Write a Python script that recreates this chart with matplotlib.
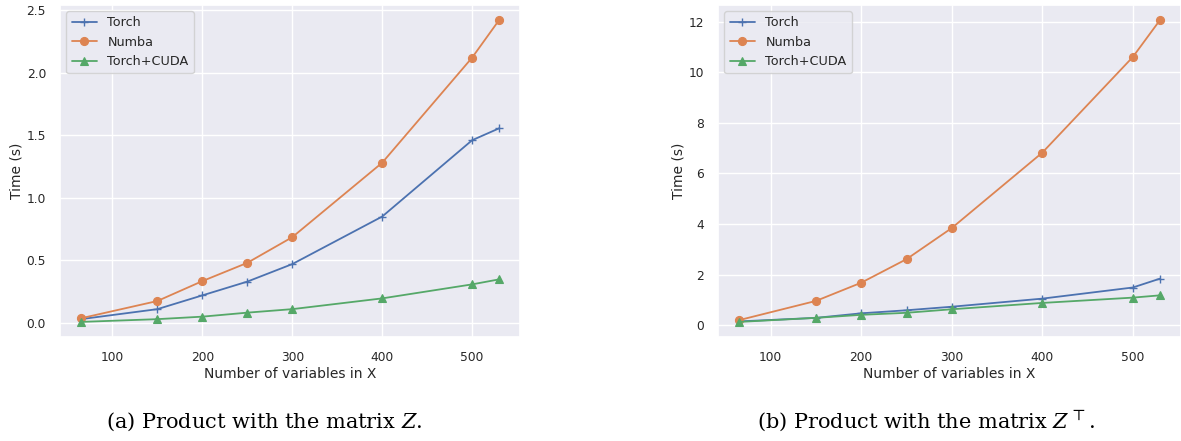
import matplotlib
matplotlib.use("Agg")
import matplotlib.pyplot as plt
import seaborn as sns

sizes = [65, 150, 200, 250, 300, 400, 500, 530]

torch_z = [0.03, 0.11, 0.22, 0.33, 0.47, 0.85, 1.46, 1.555]
numba_z = [0.037, 0.175, 0.334, 0.48, 0.685, 1.28, 2.12, 2.42]
cuda_z = [0.008, 0.03, 0.05, 0.082, 0.11, 0.196, 0.308, 0.348]

torch_zt = [0.15, 0.29, 0.47, 0.59, 0.73, 1.05, 1.49, 1.84]
numba_zt = [0.2, 0.96, 1.68, 2.61, 3.84, 6.82, 10.6, 12.06]
cuda_zt = [0.13, 0.29, 0.41, 0.49, 0.63, 0.88, 1.09, 1.18]

labels = ["Torch", "Numba", "Torch+CUDA"]
markers = ["+", "o", "^"]
xlabel = "Number of variables in X"
ylabel = "Time (s)"
captions = [r"(a) Product with the matrix $Z$.", r"(b) Product with the matrix $Z^{\top}$."]

sns.set_theme(style="darkgrid")
plt.rcParams["font.family"] = ["DejaVu Sans"]
plt.rcParams["mathtext.fontset"] = "dejavuserif"

fig = plt.figure(figsize=(11.81, 4.41), dpi=100)
ax1 = fig.add_axes([60 / 1181, 1 - 337 / 441, 460 / 1181, 332 / 441])
ax2 = fig.add_axes([718 / 1181, 1 - 337 / 441, 463 / 1181, 332 / 441])

colors = sns.color_palette("deep")[:3]
msizes = {"+": 6, "o": 5.8, "^": 5.8}
for ax, series in [(ax1, [torch_z, numba_z, cuda_z]), (ax2, [torch_zt, numba_zt, cuda_zt])]:
    for vals, lab, mk, c in zip(series, labels, markers, colors):
        ax.plot(sizes, vals, marker=mk, label=lab, color=c, lw=1.3,
                markersize=msizes[mk], markeredgewidth=1.0 if mk == "+" else 0.8)
    ax.set_xlabel(xlabel, fontsize=10, labelpad=2)
    ax.set_ylabel(ylabel, fontsize=10, labelpad=2)
    ax.tick_params(labelsize=8.8, pad=4)
    ax.set_xticks([100, 200, 300, 400, 500])
    ax.legend(loc="upper left", fontsize=9.2, frameon=True)

ax1.set_yticks([0.0, 0.5, 1.0, 1.5, 2.0, 2.5])
ax2.set_yticks([0, 2, 4, 6, 8, 10, 12])

fig.text(264 / 1181, 1 - 428 / 441, captions[0], ha="center", va="baseline",
         fontsize=15, family="DejaVu Serif", color="black")
fig.text(926 / 1181, 1 - 428 / 441, captions[1], ha="center", va="baseline",
         fontsize=15, family="DejaVu Serif", color="black")

fig.savefig("out.png", dpi=100)
